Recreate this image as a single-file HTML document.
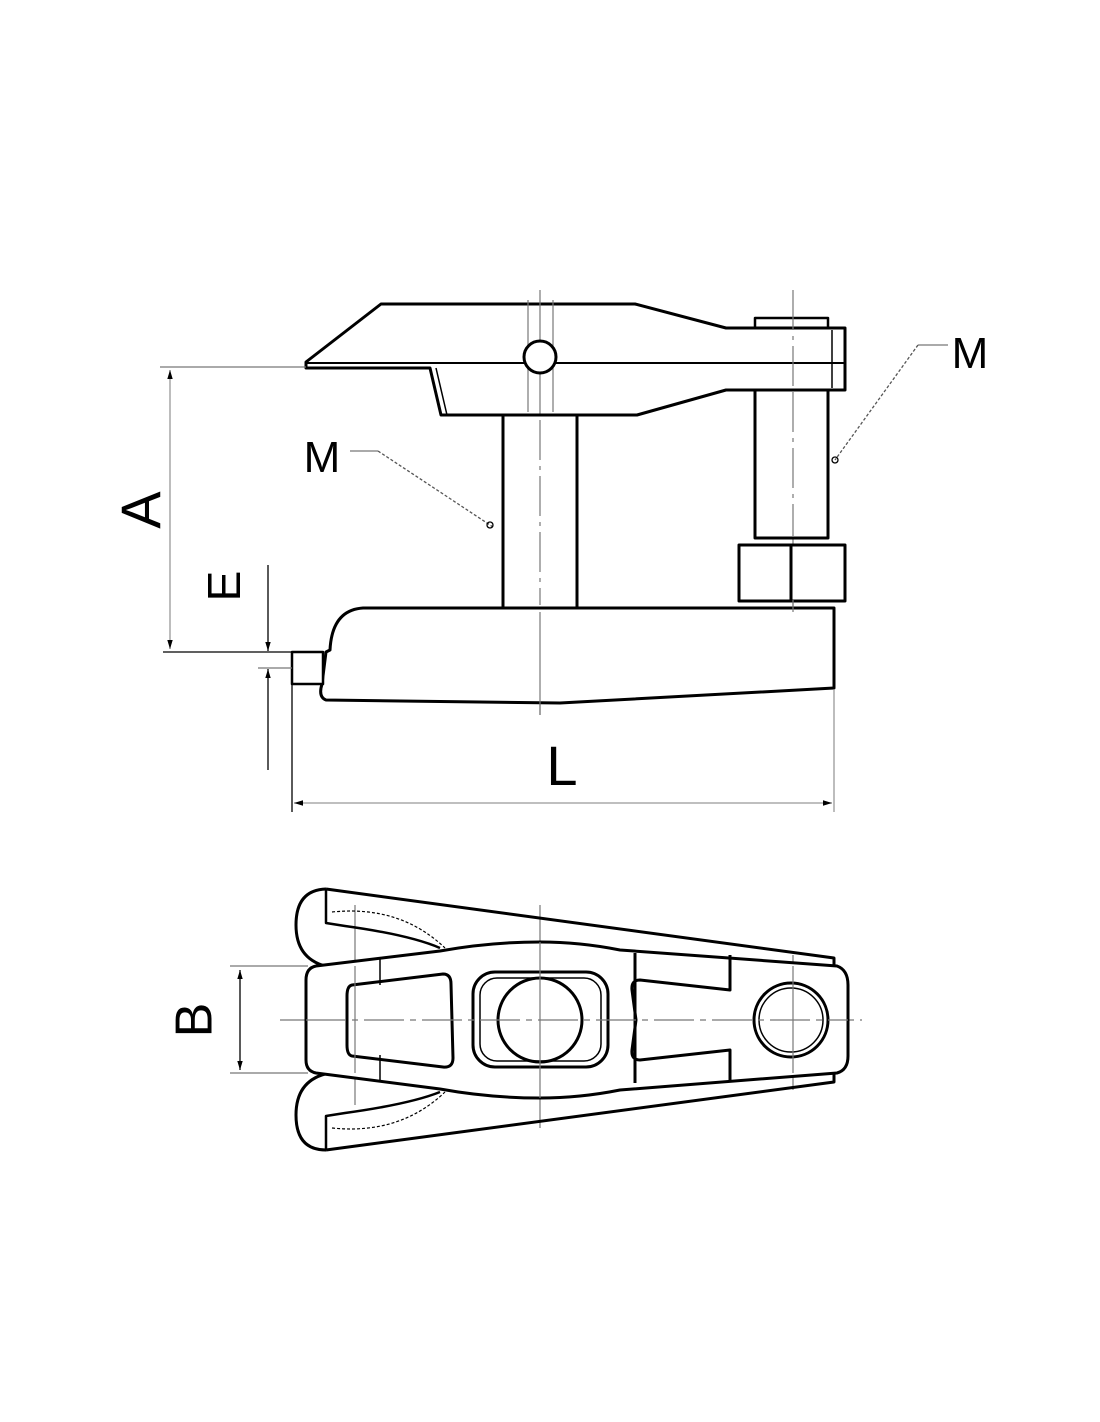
<!DOCTYPE html>
<html><head><meta charset="utf-8"><style>
html,body{margin:0;padding:0;background:#fff;}
svg{display:block;}
text{font-family:"Liberation Sans",sans-serif;fill:#000;}
</style></head><body>
<svg width="1100" height="1422" viewBox="0 0 1100 1422" xmlns="http://www.w3.org/2000/svg">
<defs>
<marker id="ar" viewBox="0 0 10 10" refX="10" refY="5" markerWidth="9" markerHeight="9" orient="auto-start-reverse" markerUnits="userSpaceOnUse"><path d="M0,2 L10,5 L0,8 z" fill="#000"/></marker>
</defs>
<g fill="none" stroke="#000" stroke-width="3" stroke-linejoin="round">
<!-- upper arm -->
<path d="M306,362 L381,304 L635,304 L726,328 L845,328 L845,390 L726,390 L637,415 L441,415 L430,368 L306,368 Z" fill="#fff"/>
<line x1="306" y1="363" x2="845" y2="363" stroke-width="2"/>
<path d="M755,328 L755,318 L828,318 L828,328" stroke-width="2.5"/>
<line x1="832" y1="330" x2="832" y2="388" stroke-width="1.5"/>
<path d="M430,368 L441,415 M436,368 L447,415" stroke-width="1.5"/>
<!-- centre lines side view -->
<g stroke="#777" stroke-width="1.2">
<line x1="540" y1="290" x2="540" y2="715"/>
<line x1="528" y1="300" x2="528" y2="412"/>
<line x1="553" y1="300" x2="553" y2="412"/>
<line x1="793" y1="290" x2="793" y2="612" stroke-dasharray="40 6 4 6"/>
</g>
<circle cx="540" cy="357" r="16" fill="#fff" stroke-width="3"/>
<!-- column -->
<rect x="503" y="415" width="74" height="193" fill="#fff"/>
<line x1="540" y1="420" x2="540" y2="605" stroke="#777" stroke-width="1.2" stroke-dasharray="40 6 4 6"/>
<!-- bolt -->
<rect x="755" y="390" width="73" height="148" fill="#fff"/>
<line x1="793" y1="392" x2="793" y2="536" stroke="#777" stroke-width="1.2" stroke-dasharray="40 6 4 6"/>
<rect x="739" y="545" width="106" height="56" fill="#fff"/>
<line x1="791" y1="545" x2="791" y2="601"/>
<!-- base -->
<path d="M330,650 Q332,610 363,608 L834,608 L834,688 L560,703 L326,700 Q318,697 322,684 L326,652 Z" fill="#fff"/>
<rect x="292" y="652" width="31" height="32" fill="#fff" stroke-width="2.5"/>
<line x1="540" y1="612" x2="540" y2="715" stroke="#777" stroke-width="1.2"/>
<line x1="793" y1="600" x2="793" y2="612" stroke="#777" stroke-width="1.2"/>
<!-- dimensions -->
<g stroke-width="1.3">
<line x1="160" y1="367" x2="306" y2="367" stroke="#777"/>
<line x1="170" y1="370" x2="170" y2="649" stroke="#999" marker-start="url(#ar)" marker-end="url(#ar)"/>
<line x1="163" y1="652" x2="292" y2="652"/>
<line x1="258" y1="668" x2="292" y2="668" stroke="#777"/>
<line x1="268" y1="565" x2="268" y2="651" marker-end="url(#ar)"/>
<line x1="268" y1="770" x2="268" y2="669" marker-end="url(#ar)"/>
<line x1="292" y1="684" x2="292" y2="812"/>
<line x1="834" y1="690" x2="834" y2="812" stroke="#999"/>
<line x1="294" y1="803" x2="832" y2="803" stroke="#999" marker-start="url(#ar)" marker-end="url(#ar)"/>
<line x1="350" y1="451" x2="378" y2="451" stroke="#777"/>
<line x1="378" y1="451" x2="493" y2="527" stroke="#555" stroke-dasharray="3 2"/>
<circle cx="490" cy="525" r="3"/>
<line x1="948" y1="345" x2="918" y2="345" stroke="#777"/>
<line x1="918" y1="345" x2="835" y2="460" stroke="#555" stroke-dasharray="3 2"/>
<circle cx="835" cy="460" r="3"/>
</g>

<!-- bottom view -->
<g stroke="#777" stroke-width="1.2">
<line x1="280" y1="1020" x2="862" y2="1020" stroke-dasharray="40 6 6 6"/>
<line x1="355" y1="905" x2="355" y2="1105"/>
<line x1="540" y1="905" x2="540" y2="1128"/>
<line x1="793" y1="955" x2="793" y2="1090"/>
<line x1="230" y1="966" x2="308" y2="966"/>
<line x1="230" y1="1073" x2="308" y2="1073"/>
</g>
<line x1="240" y1="970" x2="240" y2="1070" stroke-width="1.3" marker-start="url(#ar)" marker-end="url(#ar)"/>
<path d="M326,889 L834,958 L834,970 M326,1150 L834,1082 L834,1072"/>
<path d="M326,889 Q296,890 296,925 Q296,958 325,966"/>
<path d="M326,1150 Q296,1150 296,1115 Q296,1082 325,1074"/>
<path d="M326,889 L326,923 L345,926 Q410,935 440,948" stroke-width="2.5"/>
<path d="M326,1150 L326,1116 L345,1113 Q410,1104 440,1092" stroke-width="2.5"/>
<path d="M332,912 Q400,905 445,948 M332,1128 Q400,1135 445,1092" stroke-width="1.2" stroke-dasharray="3 2"/>
<path d="M316,966 L440,951 Q490,942 540,942 Q580,942 620,950 L837,966 Q848,970 848,985 L848,1056 Q848,1070 837,1073 L620,1090 Q580,1098 540,1098 Q490,1098 440,1089 L316,1073 Q306,1071 306,1060 L306,980 Q306,968 316,966 Z" fill="#fff"/>
<line x1="380" y1="958" x2="380" y2="985" stroke-width="1.5"/>
<line x1="380" y1="1055" x2="380" y2="1082" stroke-width="1.5"/>
<path d="M352,985 L443,974 Q451,974 451,984 L453,1058 Q453,1068 443,1067 L352,1056 Q347,1055 347,1045 L347,996 Q347,986 352,985 Z"/>
<rect x="473" y="972" width="135" height="95" rx="22"/>
<rect x="480" y="978" width="121" height="83" rx="17" stroke-width="1.5"/>
<circle cx="540" cy="1020" r="42"/>
<path d="M635,953 L635,1083 M730,955 L730,990 L640,980 Q631,980 632,990 L636,1020 L632,1050 Q631,1060 640,1060 L730,1050 L730,1082"/>
<circle cx="791" cy="1020" r="37"/>
<circle cx="791" cy="1020" r="32" stroke-width="1.5"/>
<g stroke="#777" stroke-width="1.2">
<line x1="355" y1="966" x2="355" y2="1073"/>
<line x1="540" y1="942" x2="540" y2="1098"/>
<line x1="793" y1="966" x2="793" y2="1073"/>
<line x1="306" y1="1020" x2="848" y2="1020" stroke-dasharray="40 6 6 6"/>
</g>
</g>
<text x="145" y="510" font-size="56" transform="rotate(-90 145 510)" text-anchor="middle" dominant-baseline="middle">A</text>
<text x="228" y="586" font-size="46" transform="rotate(-90 228 586)" text-anchor="middle" dominant-baseline="middle">E</text>
<text x="198" y="1020" font-size="52" transform="rotate(-90 198 1020)" text-anchor="middle" dominant-baseline="middle">B</text>
<text x="562" y="785" font-size="56" text-anchor="middle">L</text>
<text x="322" y="472" font-size="44" text-anchor="middle">M</text>
<text x="970" y="368" font-size="44" text-anchor="middle">M</text>
</svg>
</body></html>
